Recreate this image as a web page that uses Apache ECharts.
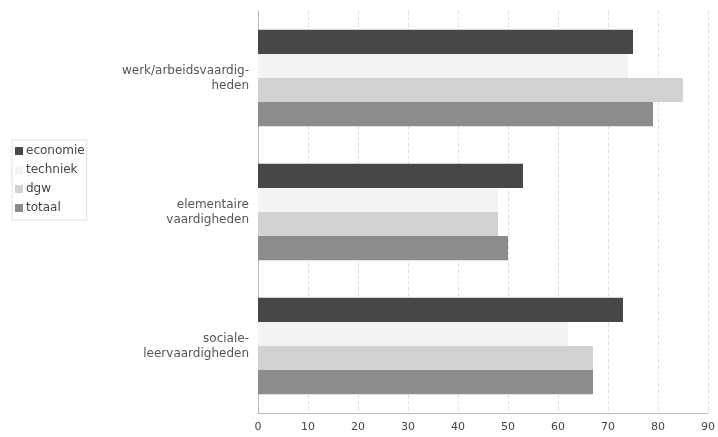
<!DOCTYPE html>
<html><head><meta charset="utf-8">
<script src="https://cdn.jsdelivr.net/npm/echarts@6/dist/echarts.min.js"></script>
<style>html,body{margin:0;padding:0;background:#fff}#c{width:718px;height:437px}</style>
</head><body><div id="c"></div>
<script>
const categories = ["werk/arbeidsvaardig-\nheden", "elementaire\nvaardigheden", "sociale-\nleervaardigheden"];
const seriesNames = ["economie", "techniek", "dgw", "totaal"];
const economie = [75, 53, 73];
const techniek = [74, 48, 62];
const dgw = [85, 48, 67];
const totaal = [79, 50, 67];
const xTicks = [0, 10, 20, 30, 40, 50, 60, 70, 80, 90];
const values = [economie, techniek, dgw, totaal];
const colors = ["#474747", "#f3f3f3", "#d2d2d2", "#8c8c8c"];

const chart = echarts.init(document.getElementById('c'));
chart.setOption({
  animation: false,
  textStyle: {fontFamily: "DejaVu Sans"},
  grid: {left: 258, right: 10, top: 11, bottom: 24, containLabel: false},
  legend: {
    orient: 'vertical', left: 12, top: 140,
    itemWidth: 8, itemHeight: 8, itemGap: 7,
    padding: [5, 2, 6, 3],
    borderColor: '#e0e0e0', borderWidth: 1,
    icon: 'rect',
    textStyle: {fontSize: 12, color: '#444', fontFamily: 'DejaVu Sans', padding: [0, 0, 0, -2]},
    data: seriesNames
  },
  xAxis: {
    type: 'value', min: xTicks[0], max: xTicks[xTicks.length - 1], interval: 10,
    axisLine: {show: true, lineStyle: {color: '#bbb'}},
    axisTick: {show: false},
    axisLabel: {fontSize: 11, color: '#444', margin: 9},
    splitLine: {show: true, lineStyle: {color: '#e2e2e2', type: 'dashed'}}
  },
  yAxis: {
    type: 'category', data: categories, inverse: true,
    axisLine: {show: true, lineStyle: {color: '#bbb'}},
    axisTick: {show: false},
    axisLabel: {fontSize: 12, color: '#555', margin: 9, lineHeight: 15, align: 'right', padding: [12, 0, 0, 0]}
  },
  series: seriesNames.map((n, i) => ({
    name: n, type: 'bar', data: values[i],
    barGap: '0%', barCategoryGap: '28%',
    itemStyle: {color: colors[i]}
  }))
});
</script></body></html>
